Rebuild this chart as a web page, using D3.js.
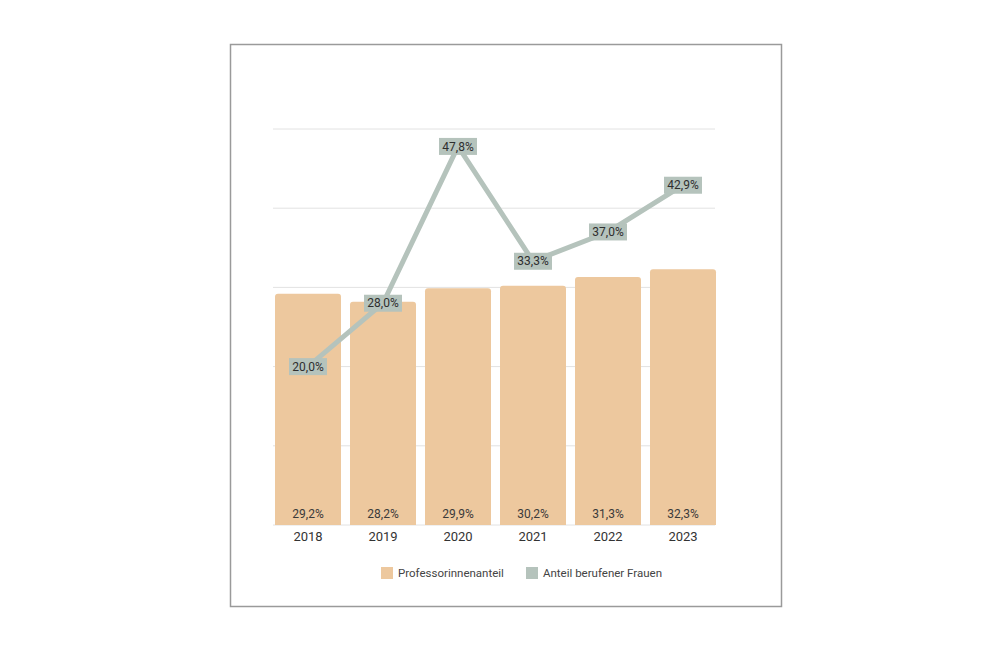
<!DOCTYPE html>
<html>
<head>
<meta charset="utf-8">
<script src="https://cdn.jsdelivr.net/npm/d3@7"></script>
<style>
  body { margin: 0; background: #fff; }
  svg { display: block; font-family: Roboto, "Open Sans", sans-serif; }
</style>
</head>
<body>
<svg id="chart" width="991" height="660"></svg>
<script>
const years = ["2018", "2019", "2020", "2021", "2022", "2023"];
const professorinnen = [29.2, 28.2, 29.9, 30.2, 31.3, 32.3];
const berufen = [20.0, 28.0, 47.8, 33.3, 37.0, 42.9];
const yTicks = [0, 10, 20, 30, 40, 50];
const legendLabels = ["Professorinnenanteil", "Anteil berufener Frauen"];

const barColor = "#edc89e";
const lineColor = "#b5c3bc";
const fmt = (v) => v.toFixed(1).replace(".", ",") + "%";

const svg = d3.select("#chart");

// frame
svg.append("rect")
  .attr("x", 230.5).attr("y", 44.5)
  .attr("width", 551).attr("height", 562)
  .attr("fill", "#fff")
  .attr("stroke", "#9a9a9a")
  .attr("stroke-width", 1.5);

const x = d3.scaleBand()
  .domain(years)
  .range([275, 716])
  .paddingInner(0.12)
  .paddingOuter(0);

const y = d3.scaleLinear()
  .domain([0, 50])
  .range([525, 129]);

// gridlines
svg.append("g")
  .selectAll("line")
  .data(yTicks)
  .join("line")
  .attr("x1", 273).attr("x2", 715)
  .attr("y1", (d) => y(d)).attr("y2", (d) => y(d))
  .attr("stroke", "#e2e2e2")
  .attr("stroke-width", 1);

// bars
const data = years.map((year, i) => ({ year, p: professorinnen[i], b: berufen[i] }));

svg.append("g")
  .selectAll("path")
  .data(data)
  .join("path")
  .attr("fill", barColor)
  .attr("d", (d) => {
    const x0 = x(d.year), w = x.bandwidth(), y0 = y(d.p), y1 = y(0), r = 3;
    return `M${x0},${y1}V${y0 + r}Q${x0},${y0} ${x0 + r},${y0}H${x0 + w - r}Q${x0 + w},${y0} ${x0 + w},${y0 + r}V${y1}Z`;
  });

// bar value labels
svg.append("g")
  .selectAll("text")
  .data(data)
  .join("text")
  .attr("x", (d) => x(d.year) + x.bandwidth() / 2)
  .attr("y", y(0) - 11)
  .attr("dy", "0.35em")
  .attr("text-anchor", "middle")
  .attr("font-size", 12)
  .attr("fill", "#3a3a3a")
  .text((d) => fmt(d.p));

// x axis labels
const xAxis = svg.append("g")
  .attr("transform", `translate(0,${y(0)})`)
  .call(d3.axisBottom(x).tickSize(0).tickPadding(7));
xAxis.select(".domain").remove();
xAxis.selectAll("text")
  .attr("font-size", 13)
  .attr("font-family", "Roboto, sans-serif")
  .attr("fill", "#333");

// line
const line = d3.line()
  .x((d) => x(d.year) + x.bandwidth() / 2)
  .y((d) => y(d.b));

svg.append("path")
  .datum(data)
  .attr("d", line)
  .attr("fill", "none")
  .attr("stroke", lineColor)
  .attr("stroke-width", 5)
  .attr("stroke-linejoin", "miter");

// line labels
const lbl = svg.append("g")
  .selectAll("g")
  .data(data)
  .join("g")
  .attr("transform", (d) => `translate(${x(d.year) + x.bandwidth() / 2},${y(d.b)})`);

lbl.append("rect")
  .attr("x", -19).attr("y", -8.5)
  .attr("width", 38).attr("height", 17)
  .attr("fill", lineColor);

lbl.append("text")
  .attr("text-anchor", "middle")
  .attr("dy", "0.35em")
  .attr("font-size", 12)
  .attr("fill", "#2e2e2e")
  .text((d) => fmt(d.b));

// legend
const legend = svg.append("g");
const legendX = [381, 526];
const legendColors = [barColor, lineColor];

legend.selectAll("rect")
  .data(legendLabels)
  .join("rect")
  .attr("x", (d, i) => legendX[i])
  .attr("y", 567)
  .attr("width", 12).attr("height", 12)
  .attr("fill", (d, i) => legendColors[i]);

legend.selectAll("text")
  .data(legendLabels)
  .join("text")
  .attr("x", (d, i) => legendX[i] + 17)
  .attr("y", 573)
  .attr("dy", "0.35em")
  .attr("font-size", 11.5)
  .attr("fill", "#444")
  .text((d) => d);
</script>
</body>
</html>
